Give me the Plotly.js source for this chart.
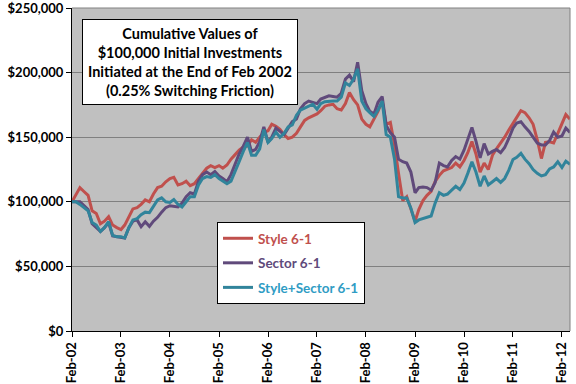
<!DOCTYPE html>
<html>
<head>
<meta charset="utf-8">
<script src="https://cdn.plot.ly/plotly-3.0.1.min.js"></script>
<style>html,body{margin:0;padding:0;background:#fff;}#chart{width:576px;height:384px;}</style>
</head>
<body>
<div id="chart"></div>
<script>
// Monthly values (end of month), Feb 2002 .. Apr 2012, in $ thousands
const startYear = 2002, startMonth = 2;
const styleVals = [100,105,111,108,105,93,91,83,85,88.5,82,80,78.5,82,89,94.5,95.5,98,101.5,100,106,111,112,115.5,118,119,113,114,116,112.5,114,118,122,126,128,126.5,128,126,128.5,133,136.5,140,142.5,143,148,146,150,153.7,155,160,158.4,156,152,149,150,153,158,163,165,166.5,168,170.5,174,175,175.5,172,171,176,184.5,179,175,164,160,158,164,170,178,160,161.5,144,122,101,104,94,85,94,101,105,108,115.7,120.5,124,125,126.5,130,127,132,138,146.7,137,123,130,125,136,141,145.5,150,155.5,161,165,170.5,169,165,160,148,133.5,146,146.5,145.5,153,161,167.5,164];
const sectorVals = [100,100,100,97,94,83,80,77,80,84,73.5,73,73,72,80,85,86,80.7,84.6,81,85,88,92,95.5,97,96.5,96,99,104,107,106,116,121,123,121,123.5,120,118,115.5,121,129,137,143,150,139,140.5,146.5,158,146,150,157,154.5,152,157,162,164,172,176,178,177,176,179.5,181,182,181.5,181,184,195,198,193,208,186,176,170,168,177,181.5,159,153.5,150,133,131,130,123,107,111,111.5,111,109,115,130,128,127,132,135,133,140,148,157.6,147,134,145,137,139,140.5,138,142,149,157,161,162,158,154.5,150,145.5,144,144,147.5,154,150,151,157,153.7];
const comboVals = [100,100,98,95.5,93,84,82,77,80,84.6,74,73,73,72,80,86,87,90,92,91.6,96,101.5,103,100,99.5,101.7,98,96,100,104,104,113,118,119.5,118.8,121,118,116,114,116,123,131,139,146,136,136,141,156,146,149,154,150,153,158,159.5,167,171,172.5,174,175.5,171.6,176,177.5,178,178,178,181,192,190,195,203,178,172,169,166,171,178,152,150,133,104,103,103,95,84,86,87,88,89,99,107,105,106,109,112,109.5,114.5,122,131,123,112,120,113,115.5,118,115,118,124.5,132.8,134.5,137.5,133,129.5,125,122,120,121,125.5,127,131,126.5,131.5,129];
const seriesNames = ['Style 6-1','Sector 6-1','Style+Sector 6-1'];
const lineColors = ['#C0504D','#604A7B','#31849B'];
const textColors = ['#C0504D','#604A7B','#2F9CC4'];
const tickLabels = ['Feb-02','Feb-03','Feb-04','Feb-05','Feb-06','Feb-07','Feb-08','Feb-09','Feb-10','Feb-11','Feb-12'];
const yTicks = [0,50000,100000,150000,200000,250000];
const yTickLabels = ['$0','$50,000','$100,000','$150,000','$200,000','$250,000'];

function monthDate(i){
  const m0 = startMonth - 1 + i;
  const y = startYear + Math.floor(m0/12);
  const m = (m0 % 12) + 1;
  return y + '-' + String(m).padStart(2,'0') + '-01';
}
const n = styleVals.length;
const dates = Array.from({length:n}, (_, i) => monthDate(i));
const tickVals = tickLabels.map((_, k) => monthDate(12*k));
const allVals = [styleVals, sectorVals, comboVals];

const traces = allVals.map((vals, k) => ({
  x: dates,
  y: vals.map(v => v*1000),
  type: 'scatter',
  mode: 'lines',
  name: '<span style="color:' + textColors[k] + '">' + seriesNames[k] + '</span>',
  legendgroup: 'g' + k,
  line: {color: lineColors[k], width: 3},
  hoverinfo: 'skip'
}));

const fontFam = 'Lato, "Open Sans", sans-serif';
const layout = {
  width: 576, height: 384,
  margin: {l: 72, r: 6, t: 8, b: 53},
  paper_bgcolor: '#ffffff',
  plot_bgcolor: '#C0C0C0',
  font: {family: fontFam, size: 12, color: '#000'},
  showlegend: true,
  legend: {
    x: (217-72)/498, y: (331-222)/323, xanchor: 'left', yanchor: 'top',
    bgcolor: '#ffffff', bordercolor: '#000000', borderwidth: 1,
    font: {family: fontFam, size: 13.5, weight: 'bold'},
    traceorder: 'grouped', tracegroupgap: 4, itemwidth: 30
  },
  xaxis: {
    type: 'date',
    range: [dates[0], dates[n-1]],
    tickvals: tickVals, ticktext: tickLabels,
    tickangle: -90,
    ticks: 'outside', ticklen: 5, tickcolor: '#000', tickwidth: 1,
    showline: true, linecolor: '#000', linewidth: 1,
    showgrid: false, zeroline: false,
    ticklabeloverflow: 'allow',
    tickfont: {family: fontFam, size: 13, weight: 'bold', color: '#000'}
  },
  yaxis: {
    range: [0, 250000],
    tickvals: yTicks, ticktext: yTickLabels,
    ticks: 'outside', ticklen: 5, tickcolor: '#000', tickwidth: 1,
    showline: true, linecolor: '#000', linewidth: 1,
    showgrid: true, gridcolor: '#808080', gridwidth: 1,
    zeroline: false,
    ticklabeloverflow: 'allow',
    tickfont: {family: fontFam, size: 13, weight: 'bold', color: '#000'}
  },
  shapes: [
    {type: 'line', xref: 'paper', yref: 'paper', x0: 0, x1: 1, y0: 1, y1: 1, line: {color: '#808080', width: 1}},
    {type: 'line', xref: 'paper', yref: 'paper', x0: 1, x1: 1, y0: 0, y1: 1, line: {color: '#808080', width: 1}}
  ],
  annotations: [{
    xref: 'paper', yref: 'paper',
    x: (190-72)/498, y: (331-62.5)/323, xanchor: 'center', yanchor: 'middle',
    text: 'Cumulative Values of<br>$100,000 Initial Investments<br>Initiated at the End of Feb 2002<br>(0.25% Switching Friction)',
    showarrow: false, align: 'center',
    font: {family: fontFam, size: 14.5, weight: 'bold', color: '#000'},
    bgcolor: '#ffffff', bordercolor: '#000000', borderwidth: 1, borderpad: 5
  }]
};

Plotly.newPlot('chart', traces, layout, {displayModeBar: false, staticPlot: true});
</script>
</body>
</html>
